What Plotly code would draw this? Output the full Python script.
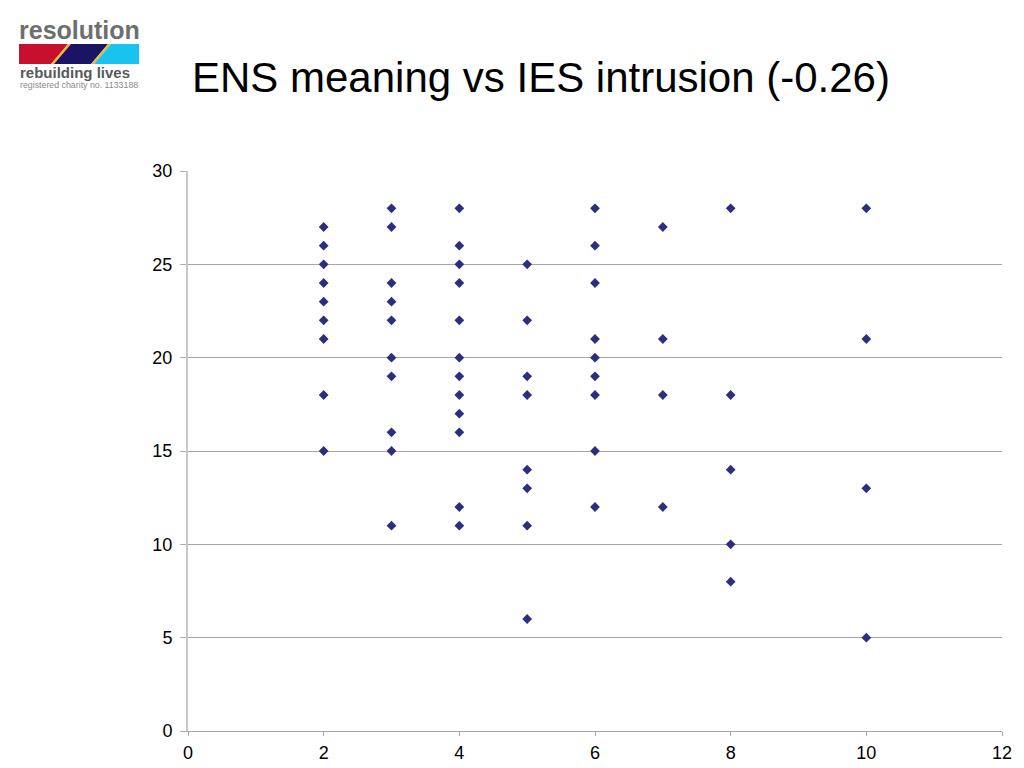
import plotly.graph_objects as go

# Data: ENS meaning (x) vs IES intrusion (y)
ens_2 = [27, 26, 25, 24, 23, 22, 21, 18, 15]
ens_3 = [28, 27, 24, 23, 22, 20, 19, 16, 15, 11]
ens_4 = [28, 26, 25, 24, 22, 20, 19, 18, 17, 16, 12, 11]
ens_5 = [25, 22, 19, 18, 14, 13, 11, 6]
ens_6 = [28, 26, 24, 21, 20, 19, 18, 15, 12]
ens_7 = [27, 21, 18, 12]
ens_8 = [28, 18, 14, 10, 8]
ens_10 = [28, 21, 13, 5]

groups = {2: ens_2, 3: ens_3, 4: ens_4, 5: ens_5, 6: ens_6, 7: ens_7, 8: ens_8, 10: ens_10}
x_vals, y_vals = [], []
for k, vals in groups.items():
    x_vals += [k] * len(vals)
    y_vals += vals

title_text = "ENS meaning vs IES intrusion (-0.26)"
x_ticks = [0, 2, 4, 6, 8, 10, 12]
y_ticks = [0, 5, 10, 15, 20, 25, 30]

W, H = 1024, 768
L, R, T, B = 188, 22, 171, 37
PLOT_BOTTOM = H - B
PW, PH = W - L - R, PLOT_BOTTOM - T


def px(x):
    return (x - L) / PW


def py(y):
    return (PLOT_BOTTOM - y) / PH


fig = go.Figure()
fig.add_trace(go.Scatter(
    x=x_vals, y=y_vals, mode="markers",
    marker=dict(symbol="diamond", size=7.5, color="#2E2E80"),
    showlegend=False, cliponaxis=False,
))

shapes = []


def poly(points, color):
    d = "M " + " L ".join(f"{px(a)},{py(b)}" for a, b in points) + " Z"
    shapes.append(dict(type="path", path=d, xref="paper", yref="paper",
                       fillcolor=color, line=dict(width=0), layer="above"))


# Logo bar
top, bot = 44, 64
poly([(19, top), (68, top), (51, bot), (19, bot)], "#C8102E")
poly([(68, top), (71, top), (54, bot), (51, bot)], "#F2B630")
poly([(71, top), (108, top), (91, bot), (54, bot)], "#1B1464")
poly([(108, top), (111, top), (94, bot), (91, bot)], "#F2B630")
poly([(111, top), (139, top), (139, bot), (94, bot)], "#19C3F0")

annotations = [
    dict(text="<b>resolution</b>", x=px(17), y=py(46), xref="paper", yref="paper",
         xanchor="left", yanchor="bottom", showarrow=False,
         font=dict(family="Liberation Sans, Arial", size=25, color="#6D6E70")),
    dict(text="<b>rebuilding lives</b>", x=px(18), y=py(62), xref="paper", yref="paper",
         xanchor="left", yanchor="top", showarrow=False,
         font=dict(family="Liberation Sans, Arial", size=15, color="#58595B")),
    dict(text="registered charity no. 1133188", x=px(18), y=py(78), xref="paper", yref="paper",
         xanchor="left", yanchor="top", showarrow=False,
         font=dict(family="Liberation Sans, Arial", size=8.8, color="#8A8B8D")),
    dict(text=title_text, x=px(541), y=py(78), xref="paper", yref="paper",
         xanchor="center", yanchor="middle", showarrow=False,
         font=dict(family="Liberation Sans, Arial", size=42, color="#000000")),
]

fig.update_layout(
    width=W, height=H,
    margin=dict(l=L, r=R, t=T, b=B, pad=0),
    paper_bgcolor="white", plot_bgcolor="white",
    shapes=shapes, annotations=annotations,
    font=dict(family="Liberation Sans, Arial", size=18, color="#000000"),
    xaxis=dict(range=[0, 12], tickvals=x_ticks, showgrid=False, zeroline=False,
               showline=True, linecolor="#A6A6A6", linewidth=1, automargin=False,
               ticks="outside", ticklen=4, tickcolor="#A6A6A6", tickfont=dict(size=18),
               ticklabelstandoff=1),
    yaxis=dict(range=[0, 30], tickvals=y_ticks, showgrid=True, gridcolor="#A6A6A6",
               gridwidth=1, zeroline=False, showline=True, linecolor="#C8C8C8",
               linewidth=2, ticks="outside", ticklen=6, tickcolor="#B0B0B0",
               automargin=False, tickfont=dict(size=18), ticklabelstandoff=4),
)

fig.write_html("out.html", config={"displayModeBar": False},
               post_script="document.body.style.margin='0';")
